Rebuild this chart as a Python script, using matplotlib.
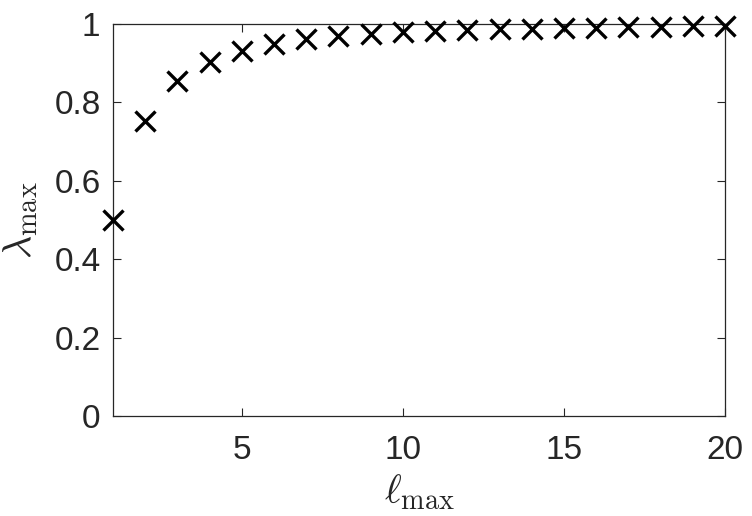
import matplotlib
matplotlib.use("Agg")
import matplotlib.pyplot as plt

l_max = list(range(1, 21))
lam_max = [0.500, 0.752, 0.854, 0.902, 0.930, 0.948, 0.961, 0.969, 0.975, 0.979,
           0.982, 0.985, 0.987, 0.988, 0.990, 0.991, 0.992, 0.993, 0.994, 0.995]
x_ticks = [5, 10, 15, 20]
y_ticks = [0, 0.2, 0.4, 0.6, 0.8, 1]
y_ticklabels = ["0", "0.2", "0.4", "0.6", "0.8", "1"]

plt.rcParams['font.family'] = ['Liberation Sans', 'DejaVu Sans']
plt.rcParams['mathtext.fontset'] = 'cm'

fig = plt.figure(figsize=(7.52, 5.16), dpi=100)
ax = fig.add_axes([113/752, 100/516, 612/752, 392/516])
ax.plot(l_max, lam_max, linestyle='none', marker='x', color='black',
        markersize=14, markeredgewidth=2.4, clip_on=False, zorder=5)
ax.set_xlim(1, 20)
ax.set_ylim(0, 1)
ax.set_xticks(x_ticks)
ax.set_xticklabels([str(t) for t in x_ticks])
ax.set_yticks(y_ticks)
ax.set_yticklabels(y_ticklabels)
ax.tick_params(direction='in', length=6, width=0.8, labelsize=24, colors='#262626',
               top=True, right=True)
ax.tick_params(axis='y', pad=9)
ax.tick_params(axis='x', pad=14)
for s in ax.spines.values():
    s.set_linewidth(0.9)
    s.set_color('#262626')
ax.set_xlabel(r'$\ell_{\max}$', fontsize=29, color='#262626', labelpad=4)
ax.set_ylabel(r'$\lambda_{\max}$', fontsize=29, color='#262626', labelpad=10)
fig.savefig('out.png', dpi=100)
